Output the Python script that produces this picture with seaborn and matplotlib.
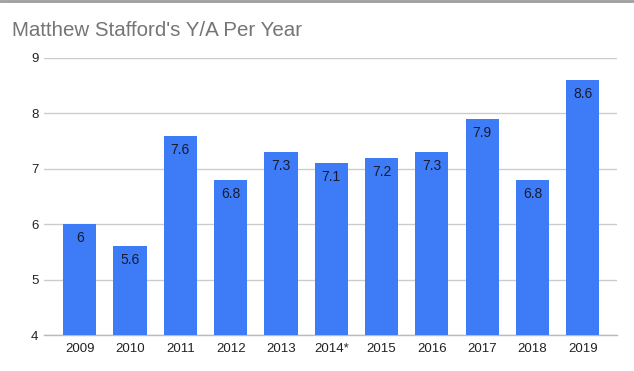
import matplotlib
matplotlib.use("Agg")
import matplotlib.pyplot as plt
import seaborn as sns
import pandas as pd

years = ["2009", "2010", "2011", "2012", "2013", "2014*", "2015", "2016", "2017", "2018", "2019"]
ypa = [6.0, 5.6, 7.6, 6.8, 7.3, 7.1, 7.2, 7.3, 7.9, 6.8, 8.6]
labels = ["6", "5.6", "7.6", "6.8", "7.3", "7.1", "7.2", "7.3", "7.9", "6.8", "8.6"]
yticks = [4, 5, 6, 7, 8, 9]

df = pd.DataFrame({"year": years, "ypa": ypa})

sns.set_theme(style="white")
plt.rcParams["font.family"] = ["Liberation Sans", "DejaVu Sans"]

fig = plt.figure(figsize=(6.34, 3.71), dpi=100)
ax = fig.add_axes([44 / 634, 1 - 335 / 371, (617 - 44) / 634, (335 - 58) / 371])

sns.barplot(data=df, x="year", y="ypa", color="#3d7cf6", saturation=1,
            width=0.66, ax=ax, zorder=3, edgecolor="none")

ax.set_ylim(4, 9)
ax.set_xlim(-0.71, 10.68)
ax.set_yticks(yticks)
ax.set_yticklabels([str(t) for t in yticks])
ax.grid(axis="y", color="#cccccc", linewidth=1, zorder=0)
ax.grid(axis="x", visible=False)
for s in ["top", "right", "left"]:
    ax.spines[s].set_visible(False)
ax.spines["bottom"].set_color("#bbbbbb")
ax.spines["bottom"].set_linewidth(1)
ax.set_xlabel("")
ax.set_ylabel("")
ax.tick_params(axis="both", length=0, labelsize=9.5, colors="#222222")
ax.tick_params(axis="x", pad=6)
ax.tick_params(axis="y", pad=4)

for i, (v, lab) in enumerate(zip(ypa, labels)):
    ax.annotate(lab, (i, v), xytext=(0, -5), textcoords="offset points",
                ha="center", va="top", fontsize=10, color="#1a1a2e", zorder=5)

fig.text(12 / 634, 1 - 30 / 371, "Matthew Stafford's Y/A Per Year",
         fontsize=14.8, color="#757575", ha="left", va="center")
fig.add_artist(plt.Line2D([0, 1], [1 - 1 / 371, 1 - 1 / 371],
                          transform=fig.transFigure, color="#9e9e9e", linewidth=2))

fig.savefig("out.png", dpi=100)
